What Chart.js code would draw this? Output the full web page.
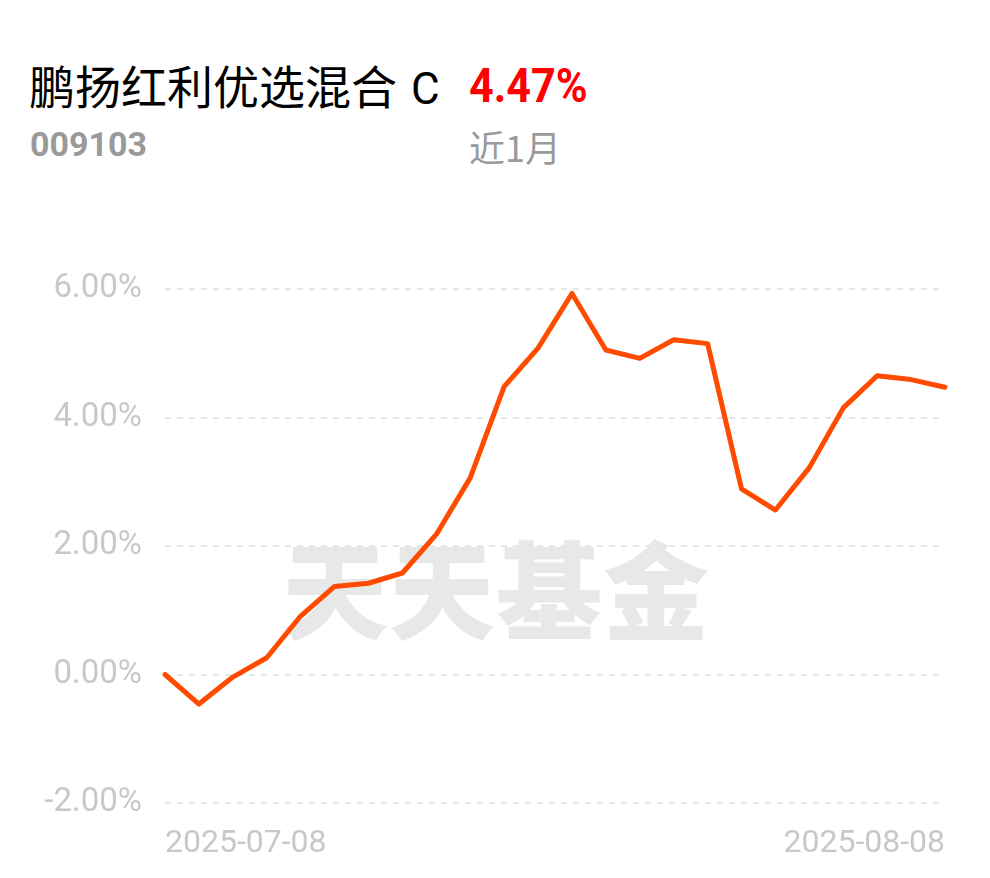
<!DOCTYPE html>
<html>
<head>
<meta charset="utf-8">
<script src="https://cdn.jsdelivr.net/npm/chart.js@4.4.1/dist/chart.umd.min.js"></script>
<style>
  html,body{margin:0;padding:0;background:#fff;}
  body{width:990px;height:878px;position:relative;overflow:hidden;font-family:Roboto,"Noto Sans CJK SC",sans-serif;}
  .abs{position:absolute;white-space:nowrap;}
  #title{left:29px;top:56px;font-family:"Noto Sans CJK SC",sans-serif;font-size:46px;color:#000;line-height:56px;}
  #title .c{font-family:Roboto,sans-serif;font-size:44px;margin-left:14px;}
  #pct{left:469px;top:57px;font-family:Roboto,sans-serif;font-weight:700;font-size:49px;color:#f00;line-height:58px;transform:scaleX(0.88);transform-origin:left center;}
  #code{left:30px;top:124px;font-family:Roboto,sans-serif;font-weight:700;font-size:34px;color:#9a9a9a;line-height:40px;}
  #period{left:469px;top:122px;font-family:"Noto Sans CJK SC",sans-serif;font-size:36px;color:#9a9a9a;line-height:48px;}
  #wm{left:282px;top:520px;font-family:"Noto Sans CJK SC",sans-serif;font-weight:900;font-size:106px;color:#e8e8e8;line-height:130px;letter-spacing:1px;}
  #c{position:absolute;left:0;top:0;}
</style>
</head>
<body>
<div id="title" class="abs">鹏扬红利优选混合<span class="c">C</span></div>
<div id="pct" class="abs">4.47%</div>
<div id="code" class="abs">009103</div>
<div id="period" class="abs">近1月</div>
<div id="wm" class="abs">天天基金</div>
<canvas id="c" width="990" height="878"></canvas>
<script>
const dates = ["2025-07-08","2025-07-09","2025-07-10","2025-07-11","2025-07-14","2025-07-15","2025-07-16","2025-07-17","2025-07-18","2025-07-21","2025-07-22","2025-07-23","2025-07-24","2025-07-25","2025-07-28","2025-07-29","2025-07-30","2025-07-31","2025-08-01","2025-08-04","2025-08-05","2025-08-06","2025-08-07","2025-08-08"];
const returns = [0, -0.46, -0.04, 0.26, 0.91, 1.37, 1.42, 1.58, 2.18, 3.06, 4.48, 5.08, 5.93, 5.05, 4.92, 5.21, 5.15, 2.89, 2.56, 3.22, 4.15, 4.65, 4.59, 4.47];
const yTicks = [-2, 0, 2, 4, 6];

new Chart(document.getElementById('c'), {
  type: 'line',
  data: {
    labels: dates,
    datasets: [{
      data: returns,
      borderColor: '#ff4b00',
      borderWidth: 5,
      pointRadius: 0,
      tension: 0,
      borderJoinStyle: 'round',
      borderCapStyle: 'round',
      fill: false,
      clip: false
    }]
  },
  options: {
    responsive: false,
    animation: false,
    devicePixelRatio: 1,
    layout: { padding: { top: 289, right: 45, bottom: 0, left: 0 } },
    plugins: { legend: { display: false }, tooltip: { enabled: false } },
    scales: {
      x: {
        grid: { display: false, drawTicks: false },
        border: { display: false },
        afterFit: s => { s.height = 75; },
        ticks: {
          autoSkip: false,
          maxRotation: 0,
          minRotation: 0,
          align: 'inner',
          padding: 22,
          color: '#c8c8c8',
          font: { family: 'Roboto', size: 32 },
          callback: (v, i) => (i === 0 || i === dates.length - 1) ? dates[i] : ''
        }
      },
      y: {
        min: yTicks[0],
        max: yTicks[yTicks.length - 1],
        afterFit: s => { s.width = 165; },
        afterBuildTicks: s => { s.ticks = yTicks.map(v => ({ value: v })); },
        grid: { color: '#e6e6e6', lineWidth: 2, drawTicks: false },
        border: { display: false, dash: [6, 6] },
        ticks: {
          padding: 23,
          color: '#c8c8c8',
          font: { family: 'Roboto', size: 33 },
          callback: v => v.toFixed(2) + '%'
        }
      }
    }
  }
});
</script>
</body>
</html>
